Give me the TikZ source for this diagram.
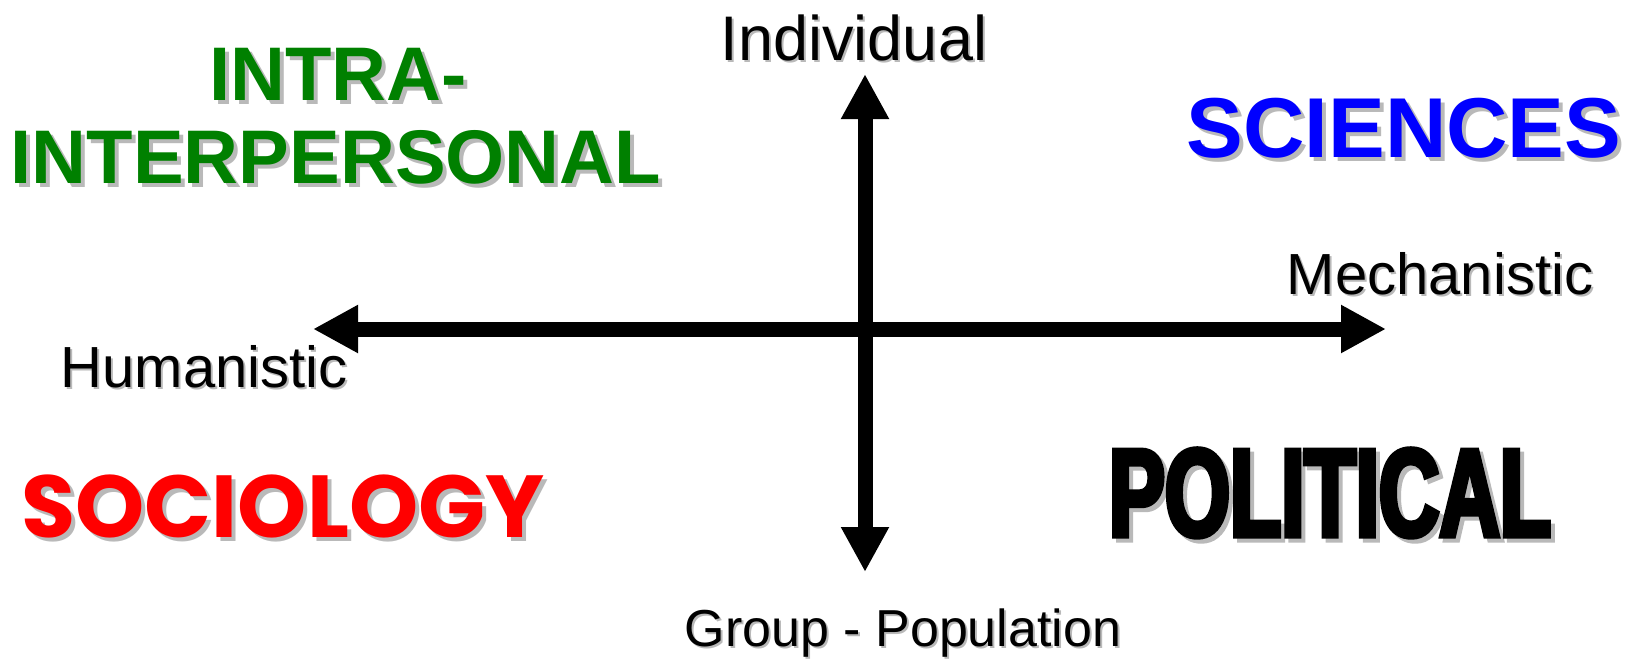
\documentclass[tikz,border=0pt]{standalone}
\usepackage{fontspec}
\setmainfont{Liberation Sans}
\newfontfamily\impactfont{Liberation Sans}[FakeStretch=0.67,FakeBold=4]
\newfontfamily\comicfont{Poppins}
\usetikzlibrary{arrows.meta}
\definecolor{ttlgreen}{RGB}{0,128,0}
\definecolor{ttlblue}{RGB}{0,0,255}
\definecolor{ttlred}{RGB}{255,0,0}
\definecolor{shadowgray}{RGB}{185,185,185}
\newcommand\stext[5]{%
  \node[#4,shd,xshift=#3pt,yshift=-#3pt] (#1-shadow) at #2 {#5};
  \node[#4] (#1) at #2 {#5};}
\begin{document}
\begin{tikzpicture}[x=1pt,y=-1pt,
  txt/.style={anchor=base,inner sep=0pt,outer sep=0pt},
  lbl/.style={txt,text=black,font=\fontsize{#1}{#1}\selectfont},
  ttl/.style={txt,font=\fontsize{#1}{#1}\selectfont\bfseries},
  shd/.style={text=shadowgray},
  axis/.style={line width=15pt,
    {Triangle[length=45pt,width=45pt]}-{Triangle[length=45pt,width=45pt]}}]
\useasboundingbox (0,0) rectangle (1630,662);
% axes
\coordinate (top) at (865,74);
\coordinate (bottom) at (865,572);
\coordinate (left) at (313,329);
\coordinate (right) at (1386,329);
\draw[axis] (left) -- (right);
\draw[axis] (bottom) -- (top);
% axis labels
\stext{individual}{(854,60)}{2}{lbl=63}{Individual}
\stext{mechanistic}{(1440,294)}{2}{lbl=58}{Mechanistic}
\stext{humanistic}{(204,387)}{2}{lbl=58}{Humanistic}
\stext{group}{(903,646)}{2}{lbl=52}{Group - Population}
% quadrant titles
\stext{intra}{(338,100)}{4}{ttl=76,text=ttlgreen}{INTRA-}
\stext{inter}{(336,183)}{4}{ttl=76,text=ttlgreen}{INTERPERSONAL}
\stext{sciences}{(1404,157)}{4}{ttl=85,text=ttlblue}{SCIENCES}
\stext{political}{(1330,536)}{4}{txt,font=\impactfont\fontsize{125}{125}\selectfont\bfseries}{POLITICAL}
\stext{sociology}{(283,537)}{4}{txt,text=ttlred,font=\comicfont\fontsize{88}{88}\selectfont\bfseries}{SOCIOLOGY}
\end{tikzpicture}
\end{document}
